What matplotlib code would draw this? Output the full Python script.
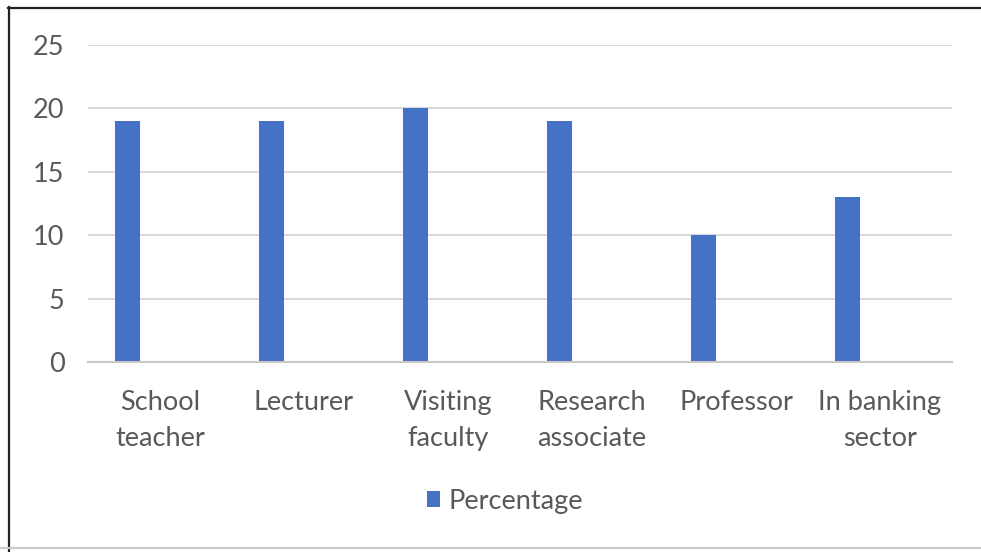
import matplotlib
matplotlib.use("Agg")
import matplotlib.pyplot as plt
from matplotlib.lines import Line2D
from matplotlib.patches import Patch
import numpy as np

categories = ["School\nteacher", "Lecturer", "Visiting\nfaculty",
              "Research\nassociate", "Professor", "In banking\nsector"]
percentage = [19, 19, 20, 19, 10, 13]
y_ticks = [0, 5, 10, 15, 20, 25]

plt.rcParams["font.family"] = ["Lato", "DejaVu Sans"]
text_color = "#595959"
bar_color = "#4472C4"
fs = 19.5

fig = plt.figure(figsize=(9.81, 5.52), dpi=100)
ax = fig.add_axes([88 / 981, 1 - 362 / 552, (952 - 88) / 981, (362 - 45) / 552])

x = np.arange(len(categories))
ax.bar(x - 0.226, percentage, width=0.174, color=bar_color, zorder=3)

ax.set_xlim(-0.5, len(categories) - 0.5)
ax.set_ylim(0, 25)
ax.set_yticks(y_ticks)
ax.set_yticklabels([str(t) for t in y_ticks], fontsize=fs, color=text_color)
ax.set_xticks(x)
ax.set_xticklabels(categories, fontsize=fs, color=text_color, linespacing=1.55)
ax.tick_params(axis="both", length=0)
ax.tick_params(axis="y", pad=17)
ax.tick_params(axis="x", pad=20)
ax.grid(axis="y", color="#d9d9d9", linewidth=1.5, zorder=0)
for side in ["top", "right", "left"]:
    ax.spines[side].set_visible(False)
ax.spines["bottom"].set_color("#c8c8c8")
ax.spines["bottom"].set_linewidth(1.5)
ax.spines["bottom"].set_zorder(4)

handle = Patch(facecolor=bar_color, edgecolor="none")
fig.legend([handle], ["Percentage"], loc="center", bbox_to_anchor=(505 / 981, 1 - 501 / 552),
           frameon=False, fontsize=fs, handlelength=0.5, handleheight=0.5,
           handletextpad=0.3, labelcolor=text_color)

# frame around the chart
fig.add_artist(Line2D([8 / 981, 1], [1 - 7.5 / 552, 1 - 7.5 / 552], color="#222222", linewidth=1.6))
fig.add_artist(Line2D([8.5 / 981, 8.5 / 981], [0, 1 - 7 / 552], color="#222222", linewidth=1.6))
fig.add_artist(Line2D([0, 1], [1 - 548 / 552, 1 - 548 / 552], color="#cccccc", linewidth=1.6))

fig.savefig("out.png", dpi=100)
